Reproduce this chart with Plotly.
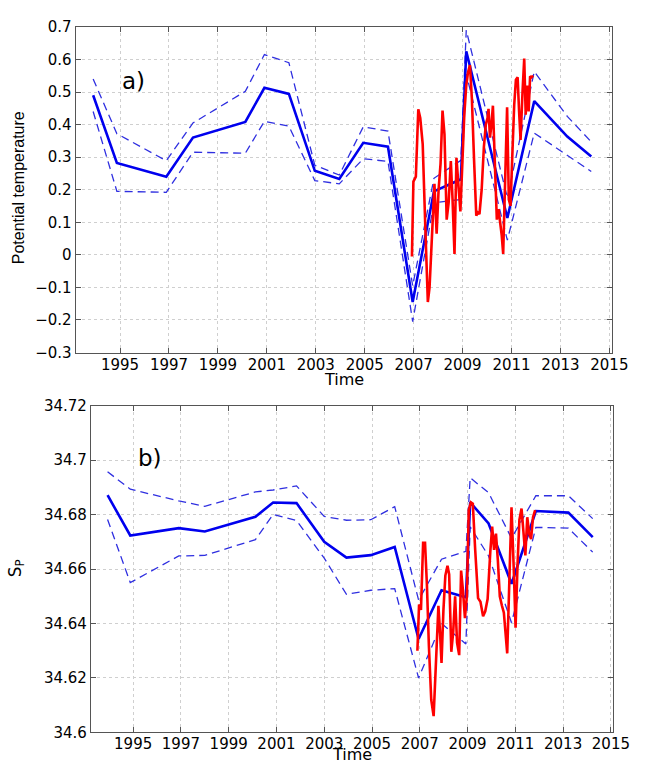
import plotly.graph_objects as go

# ---- panel a) potential temperature ----
time_a = [1993.90, 1994.87, 1996.89, 1997.98, 2000.12, 2000.90, 2001.90, 2002.96,
          2003.96, 2004.94, 2005.95, 2006.96, 2007.83, 2008.93, 2009.15, 2010.83,
          2011.93, 2013.28, 2014.26]
theta_mean = [0.490, 0.282, 0.240, 0.360, 0.408, 0.513, 0.494, 0.258, 0.233, 0.344,
              0.332, -0.145, 0.195, 0.232, 0.625, 0.113, 0.472, 0.363, 0.302]
theta_upper = [0.540, 0.372, 0.289, 0.405, 0.502, 0.615, 0.590, 0.275, 0.245, 0.393,
               0.380, -0.095, 0.235, 0.290, 0.690, 0.175, 0.563, 0.425, 0.347]
theta_lower = [0.440, 0.195, 0.192, 0.315, 0.312, 0.410, 0.395, 0.228, 0.218, 0.295,
               0.287, -0.205, 0.160, 0.170, 0.555, 0.045, 0.374, 0.305, 0.256]

time_a_red = [2006.93, 2006.99, 2007.09, 2007.19, 2007.27, 2007.37, 2007.47, 2007.58,
              2007.65, 2007.75, 2007.85, 2007.94, 2008.02, 2008.10, 2008.18, 2008.26,
              2008.35, 2008.43, 2008.52, 2008.59, 2008.67, 2008.75, 2008.83, 2008.91,
              2008.99, 2009.07, 2009.15, 2009.22, 2009.30, 2009.38, 2009.47, 2009.56,
              2009.62, 2009.69, 2009.78, 2009.87, 2009.95, 2010.02, 2010.06, 2010.12,
              2010.18, 2010.24, 2010.32, 2010.40, 2010.47, 2010.54, 2010.60, 2010.66,
              2010.74, 2010.82, 2010.89, 2010.96, 2011.04, 2011.11, 2011.18, 2011.25,
              2011.31, 2011.37, 2011.45, 2011.52, 2011.58, 2011.64, 2011.70, 2011.76,
              2011.82, 2011.88]
theta_red = [-0.005, 0.225, 0.240, 0.447, 0.420, 0.340, 0.100, -0.145,
             -0.100, 0.080, 0.218, 0.065, 0.200, 0.280, 0.443, 0.370,
             0.108, 0.160, 0.288, 0.170, 0.003, 0.298, 0.220, 0.133,
             0.280, 0.430, 0.520, 0.560, 0.583, 0.480, 0.290, 0.120,
             0.130, 0.125, 0.200, 0.330, 0.400, 0.420, 0.448, 0.360,
             0.400, 0.458, 0.280, 0.108, 0.140, 0.100, 0.060, 0.003,
             0.200, 0.453, 0.170, 0.150, 0.320, 0.460, 0.538, 0.545,
             0.440, 0.353, 0.500, 0.603, 0.430, 0.520, 0.440, 0.548,
             0.545, 0.550]

# ---- panel b) practical salinity ----
time_b = [1993.93, 1994.88, 1996.91, 1998.00, 2000.12, 2000.86, 2001.84, 2003.00,
          2003.93, 2004.95, 2005.95, 2006.95, 2007.91, 2008.93, 2009.11, 2009.88,
          2010.84, 2011.86, 2013.22, 2014.24]
sal_mean = [34.6871, 34.6723, 34.6750, 34.6738, 34.6792, 34.6844, 34.6842, 34.6700,
            34.6642, 34.6651, 34.6681, 34.6343, 34.6522, 34.6496, 34.6845, 34.6767,
            34.6546, 34.6813, 34.6807, 34.6717]
sal_upper = [34.6957, 34.6893, 34.6850, 34.6830, 34.6883, 34.6890, 34.6905, 34.6793,
             34.6779, 34.6781, 34.6829, 34.6486, 34.6636, 34.6665, 34.6935, 34.6880,
             34.6713, 34.6869, 34.6869, 34.6785]
sal_lower = [34.6782, 34.6550, 34.6648, 34.6650, 34.6708, 34.6800, 34.6778, 34.6640,
             34.6507, 34.6522, 34.6528, 34.6200, 34.6400, 34.6325, 34.6755, 34.6648,
             34.6403, 34.6753, 34.6750, 34.6662]

time_b_red = [2006.90, 2006.97, 2007.05, 2007.14, 2007.22, 2007.30, 2007.38, 2007.48,
              2007.58, 2007.66, 2007.72, 2007.78, 2007.84, 2007.91, 2007.99, 2008.07,
              2008.16, 2008.23, 2008.32, 2008.40, 2008.48, 2008.56, 2008.65, 2008.73,
              2008.81, 2008.89, 2008.97, 2009.05, 2009.14, 2009.22, 2009.32, 2009.44,
              2009.54, 2009.65, 2009.74, 2009.84, 2009.95, 2010.03, 2010.11, 2010.19,
              2010.27, 2010.35, 2010.44, 2010.52, 2010.66, 2010.74, 2010.84, 2010.93,
              2011.01, 2011.09, 2011.17, 2011.26, 2011.34, 2011.42, 2011.50, 2011.58,
              2011.66, 2011.74, 2011.83]
sal_red = [34.6300, 34.6470, 34.6450, 34.6696, 34.6696, 34.6540, 34.6320, 34.6120,
           34.6060, 34.6220, 34.6400, 34.6465, 34.6380, 34.6255, 34.6450, 34.6576,
           34.6612, 34.6580, 34.6296, 34.6370, 34.6500, 34.6330, 34.6284, 34.6594,
           34.6520, 34.6420, 34.6500, 34.6816, 34.6845, 34.6840, 34.6670, 34.6493,
           34.6480, 34.6427, 34.6445, 34.6490, 34.6660, 34.6756, 34.6670, 34.6730,
           34.6630, 34.6500, 34.6465, 34.6440, 34.6290, 34.6500, 34.6827, 34.6610,
           34.6385, 34.6610, 34.6780, 34.6822, 34.6750, 34.6650, 34.6790, 34.6730,
           34.6710, 34.6790, 34.6816]

year_ticks = list(range(1995, 2016, 2))
theta_ticks = [-0.3, -0.2, -0.1, 0, 0.1, 0.2, 0.3, 0.4, 0.5, 0.6, 0.7]
theta_ticktext = ["\u22120.3", "\u22120.2", "\u22120.1", "0", "0.1", "0.2", "0.3",
                  "0.4", "0.5", "0.6", "0.7"]
sal_ticks = [34.60, 34.62, 34.64, 34.66, 34.68, 34.70, 34.72]
sal_ticktext = ["34.6", "34.62", "34.64", "34.66", "34.68", "34.7", "34.72"]

W, H = 648, 774
BLUE = "#0000ee"
DASH_BLUE = "#2f2fe0"
RED = "#ff0000"
TICK_FONT = dict(family="DejaVu Sans", size=15, color="#000000")


def px_x(x):
    return x / W


def px_y(y):
    return 1 - y / H


fig = go.Figure()

def add_panel(xa, ya, t, mean, up, lo, tr, red):
    for band in (up, lo):
        fig.add_trace(go.Scatter(x=t, y=band, mode="lines", xaxis=xa, yaxis=ya,
                                 line=dict(color=DASH_BLUE, width=1.3, dash="8px,5px")))
    fig.add_trace(go.Scatter(x=t, y=mean, mode="lines", xaxis=xa, yaxis=ya,
                             line=dict(color=BLUE, width=2.6)))
    fig.add_trace(go.Scatter(x=tr, y=red, mode="lines", xaxis=xa, yaxis=ya,
                             line=dict(color=RED, width=2.6)))

add_panel("x", "y", time_a, theta_mean, theta_upper, theta_lower, time_a_red, theta_red)
add_panel("x2", "y2", time_b, sal_mean, sal_upper, sal_lower, time_b_red, sal_red)

axis_common = dict(
    showline=True, linecolor="#555555", linewidth=1, mirror="ticks",
    ticks="inside", ticklen=5, tickcolor="#555555", tickwidth=1,
    showgrid=True, gridcolor="#cfcfcf", griddash="dot", gridwidth=1,
    zeroline=False, tickfont=TICK_FONT,
)

fig.update_layout(
    width=W, height=H,
    margin=dict(l=0, r=0, t=0, b=0),
    paper_bgcolor="white", plot_bgcolor="white",
    showlegend=False,
    xaxis=dict(domain=[px_x(77.7), px_x(628.3)], range=[1993.185, 2015.1],
               tickvals=year_ticks, anchor="y", ticklabelstandoff=-2, **axis_common),
    yaxis=dict(domain=[px_y(351.7), px_y(18.3)], range=[-0.3, 0.7],
               tickvals=theta_ticks, ticktext=theta_ticktext, anchor="x", **axis_common),
    xaxis2=dict(domain=[px_x(93.3), px_x(629.3)], range=[1993.23, 2015.08],
                tickvals=year_ticks, anchor="y2", ticklabelstandoff=-2, **axis_common),
    yaxis2=dict(domain=[px_y(740.7), px_y(406)], range=[34.60, 34.72],
                tickvals=sal_ticks, ticktext=sal_ticktext, anchor="x2", **axis_common),
)

annotations = [
    dict(text="Time", x=px_x(353), y=px_y(379), yanchor="middle",
         font=dict(family="DejaVu Sans", size=16)),
    dict(text="Time", x=px_x(361.5), y=0, yanchor="bottom",
         font=dict(family="DejaVu Sans", size=16)),
    dict(text="Potential temperature", x=px_x(19), y=px_y(183), textangle=-90,
         yanchor="middle", font=dict(family="Liberation Sans", size=16)),
    dict(text="S<sub>P</sub>", x=px_x(17), y=px_y(573), textangle=-90,
         yanchor="middle", font=dict(family="DejaVu Sans", size=17)),
    dict(text="a)", x=px_x(137), y=px_y(74), yanchor="middle",
         font=dict(family="DejaVu Sans", size=23)),
    dict(text="b)", x=px_x(154), y=px_y(460), yanchor="middle",
         font=dict(family="DejaVu Sans", size=23)),
]
for a in annotations:
    a.update(xref="paper", yref="paper", showarrow=False, xanchor="center", borderpad=0)
    a["font"]["color"] = "#000000"
fig.update_layout(annotations=annotations)

fig.write_html("out.html")
